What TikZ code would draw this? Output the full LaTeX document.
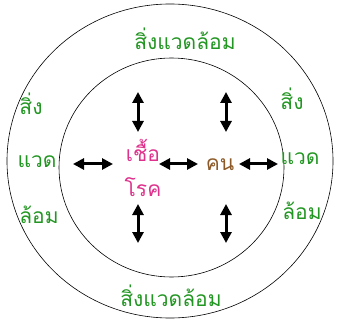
\documentclass[tikz,border=0pt]{standalone}
\usepackage{fontspec}
\newfontfamily\thaifont[Script=Thai]{Loma}
\usepackage{tikz}
\usetikzlibrary{arrows.meta}

\definecolor{envgreen}{RGB}{34,150,34}
\definecolor{germpink}{RGB}{222,50,140}
\definecolor{hostbrown}{RGB}{140,90,40}

\begin{document}
\begin{tikzpicture}[
    x=1pt,y=-1pt,
    ring/.style={draw=black,line width=0.6pt},
    link/.style={{Triangle[length=11pt,width=11pt]}-{Triangle[length=11pt,width=11pt]},line width=3pt},
    envtext/.style={text=envgreen,font=\thaifont\fontsize{21}{24}\selectfont,inner sep=0pt},
    agent/.style={text=germpink,font=\thaifont\fontsize{21}{24}\selectfont,inner sep=0pt},
    host/.style={text=hostbrown,font=\thaifont\fontsize{21}{24}\selectfont,inner sep=0pt}
  ]
    \useasboundingbox (0,0) rectangle (339,320);

    % วงนอกและวงใน
    \draw[ring] (170,161) ellipse[x radius=163,y radius=157];
    \draw[ring] (171.5,167.5) ellipse[x radius=112.5,y radius=109.5];

    % สิ่งแวดล้อม รอบวง
    \node[envtext] (envtop) at (185,39) {สิ่งแวดล้อม};
    \node[envtext] (envbot) at (171,296) {สิ่งแวดล้อม};
    \node[envtext] (envl1) at (31,104) {สิ่ง};
    \node[envtext] (envl2) at (37,162) {แวด};
    \node[envtext] (envl3) at (39,215) {ล้อม};
    \node[envtext] (envr1) at (292,99) {สิ่ง};
    \node[envtext] (envr2) at (300,159) {แวด};
    \node[envtext] (envr3) at (302,211) {ล้อม};

    % เชื้อโรค และ คน
    \node[agent] (germ1) at (143,150) {เชื้อ};
    \node[agent] (germ2) at (143,187) {โรค};
    \node[host] (person) at (220,165) {คน};

    % จุดปลายลูกศร
    \coordinate (gtop1) at (138,92);   \coordinate (gtop2) at (138,132);
    \coordinate (ptop1) at (226,92);   \coordinate (ptop2) at (226,132);
    \coordinate (gbot1) at (138,204);  \coordinate (gbot2) at (138,243);
    \coordinate (pbot1) at (226,204);  \coordinate (pbot2) at (226,243);
    \coordinate (left1) at (73,164);   \coordinate (left2) at (113,164);
    \coordinate (mid1) at (159,164);   \coordinate (mid2) at (198,164);
    \coordinate (right1) at (239,164); \coordinate (right2) at (278,164);

    % ลูกศรสองทาง
    \draw[link] (gtop1) -- (gtop2);
    \draw[link] (ptop1) -- (ptop2);
    \draw[link] (gbot1) -- (gbot2);
    \draw[link] (pbot1) -- (pbot2);
    \draw[link] (left1) -- (left2);
    \draw[link] (mid1) -- (mid2);
    \draw[link] (right1) -- (right2);
  \end{tikzpicture}
\end{document}
